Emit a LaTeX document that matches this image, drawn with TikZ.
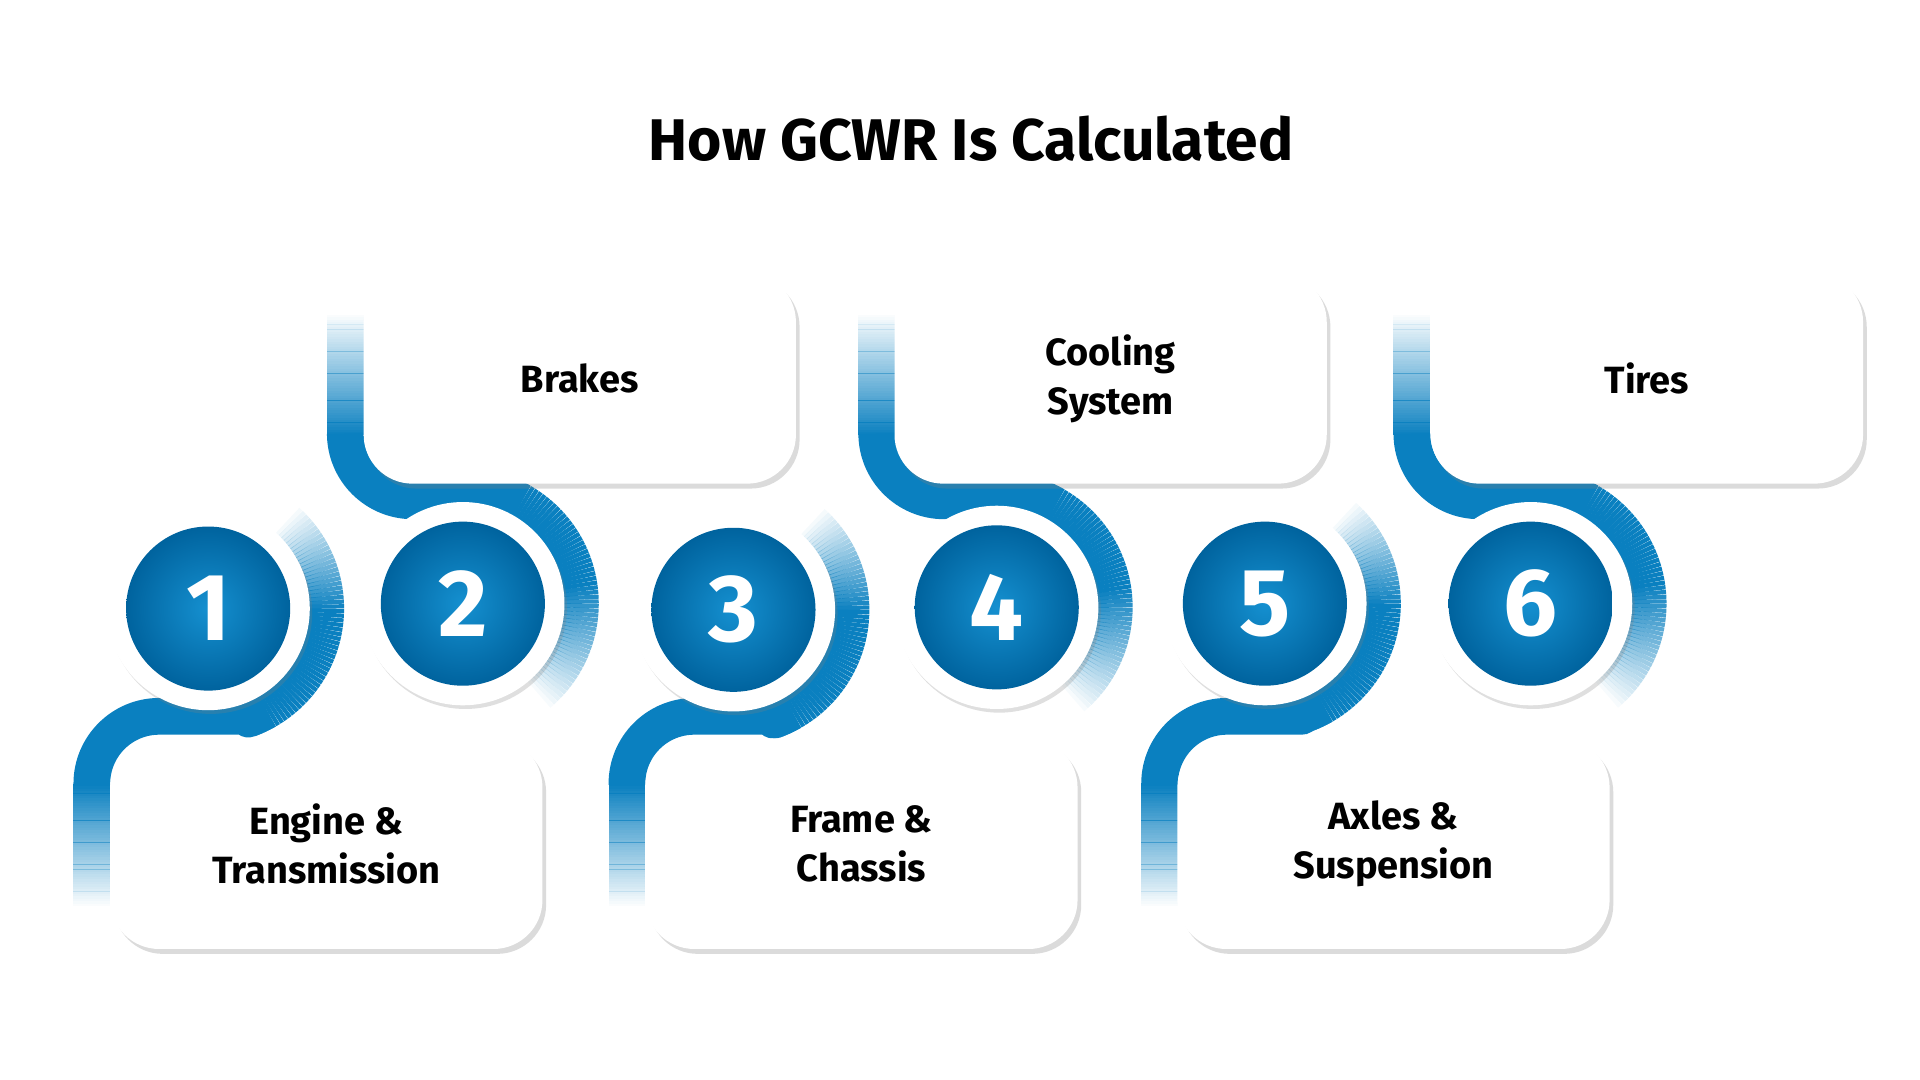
\documentclass[tikz,border=0pt]{standalone}
\usepackage{fontspec}
\setmainfont{Fira Sans}
\usetikzlibrary{shadows,calc}
\definecolor{bl}{HTML}{0A80C0}
\definecolor{bldk}{HTML}{00639E}
\definecolor{bllt}{HTML}{1590D0}
\tikzset{
  box/.style={fill=white, rounded corners=40pt, minimum width=353pt, minimum height=172pt,
    drop shadow={opacity=0.28,shadow xshift=3pt,shadow yshift=-4pt},
    font=\fontsize{31}{40}\selectfont\bfseries, align=center},
  ring/.style={circle, fill=white, minimum size=166pt, inner sep=0pt,
    drop shadow={opacity=0.25,shadow xshift=2pt,shadow yshift=-3pt}},
  disc/.style={circle, inner color=bllt, outer color=bldk, minimum size=134pt, inner sep=0pt,
    text=white, font=\fontsize{78}{78}\selectfont\bfseries},
  band/.style={draw=bl, line width=30pt, line cap=butt},
  ttl/.style={font=\fontsize{48}{54}\selectfont\bfseries}
}
\newcommand\bandbot[4]{%
  \foreach \i in {0,...,59}{%
    \pgfmathsetmacro\aa{-50+2*\i}\pgfmathsetmacro\op{min(1,\i/25)}%
    \draw[band,draw opacity=\op] ($(#1,#2)+(\aa:96)$) arc[start angle=\aa, end angle=\aa+2.05, radius=96];}
  \draw[band,line join=round] ($(#1,#2)+(60:96)$) arc[start angle=60,end angle=70,radius=96] -- (#1+30,#4-15) -- (#3+40,#4-15) arc[start angle=-90,end angle=-180,radius=55] -- (#3-15,#4+41);
  \foreach \i in {0,...,49}{%
    \pgfmathsetmacro\op{1-\i/50}%
    \draw[band,draw opacity=\op] (#3-15,#4+40+2*\i) -- (#3-15,#4+42.1+2*\i);}
}
\newcommand\bandtop[4]{%
  \foreach \i in {0,...,49}{%
    \pgfmathsetmacro\op{\i/50}%
    \draw[band,draw opacity=\op] (#3-15,#4-140+2*\i) -- (#3-15,#4-137.9+2*\i);}
  \draw[band,line join=round] (#3-15,#4-41) arc[start angle=180,end angle=90,radius=55] -- ($(#1,#2)+(-70:96)$) arc[start angle=-70,end angle=-60,radius=96];
  \foreach \i in {0,...,59}{%
    \pgfmathsetmacro\aa{-70+2*\i}\pgfmathsetmacro\op{min(1,(60-\i)/30)}%
    \draw[band,draw opacity=\op] ($(#1,#2)+(\aa:96)$) arc[start angle=\aa, end angle=\aa+2.05, radius=96];}
}
\begin{document}
\begin{tikzpicture}[x=1pt,y=-1pt]
\useasboundingbox[fill=white] (0,0) rectangle (1568,882);
\node[ttl] (title) at (793,113) {How GCWR Is Calculated};
\bandbot{170}{497}{90}{600}
\bandbot{599}{498}{527}{600}
\bandbot{1033}{493}{962}{600}
\bandtop{378}{493}{297}{395}
\bandtop{814}{496}{731}{395}
\bandtop{1250}{493}{1168}{395}
\node[box] (b1) at (266.5,689) {Engine \&\\Transmission};
\node[box] (b3) at (703.5,689) {Frame \&\\Chassis};
\node[box] (b5) at (1138,689) {Axles \&\\Suspension};
\node[box] (b2) at (473.5,309) {Brakes};
\node[box] (b4) at (907,309) {Cooling\\System};
\node[box] (b6) at (1345,309) {Tires};
\foreach \n/\x/\y in {1/170/497,2/378/493,3/599/498,4/814/496,5/1033/493,6/1250/493}{
  \node[ring] (r\n) at (\x,\y) {};
  \node[disc] (c\n) at (\x,\y) {\n};
}
\end{tikzpicture}
\end{document}
